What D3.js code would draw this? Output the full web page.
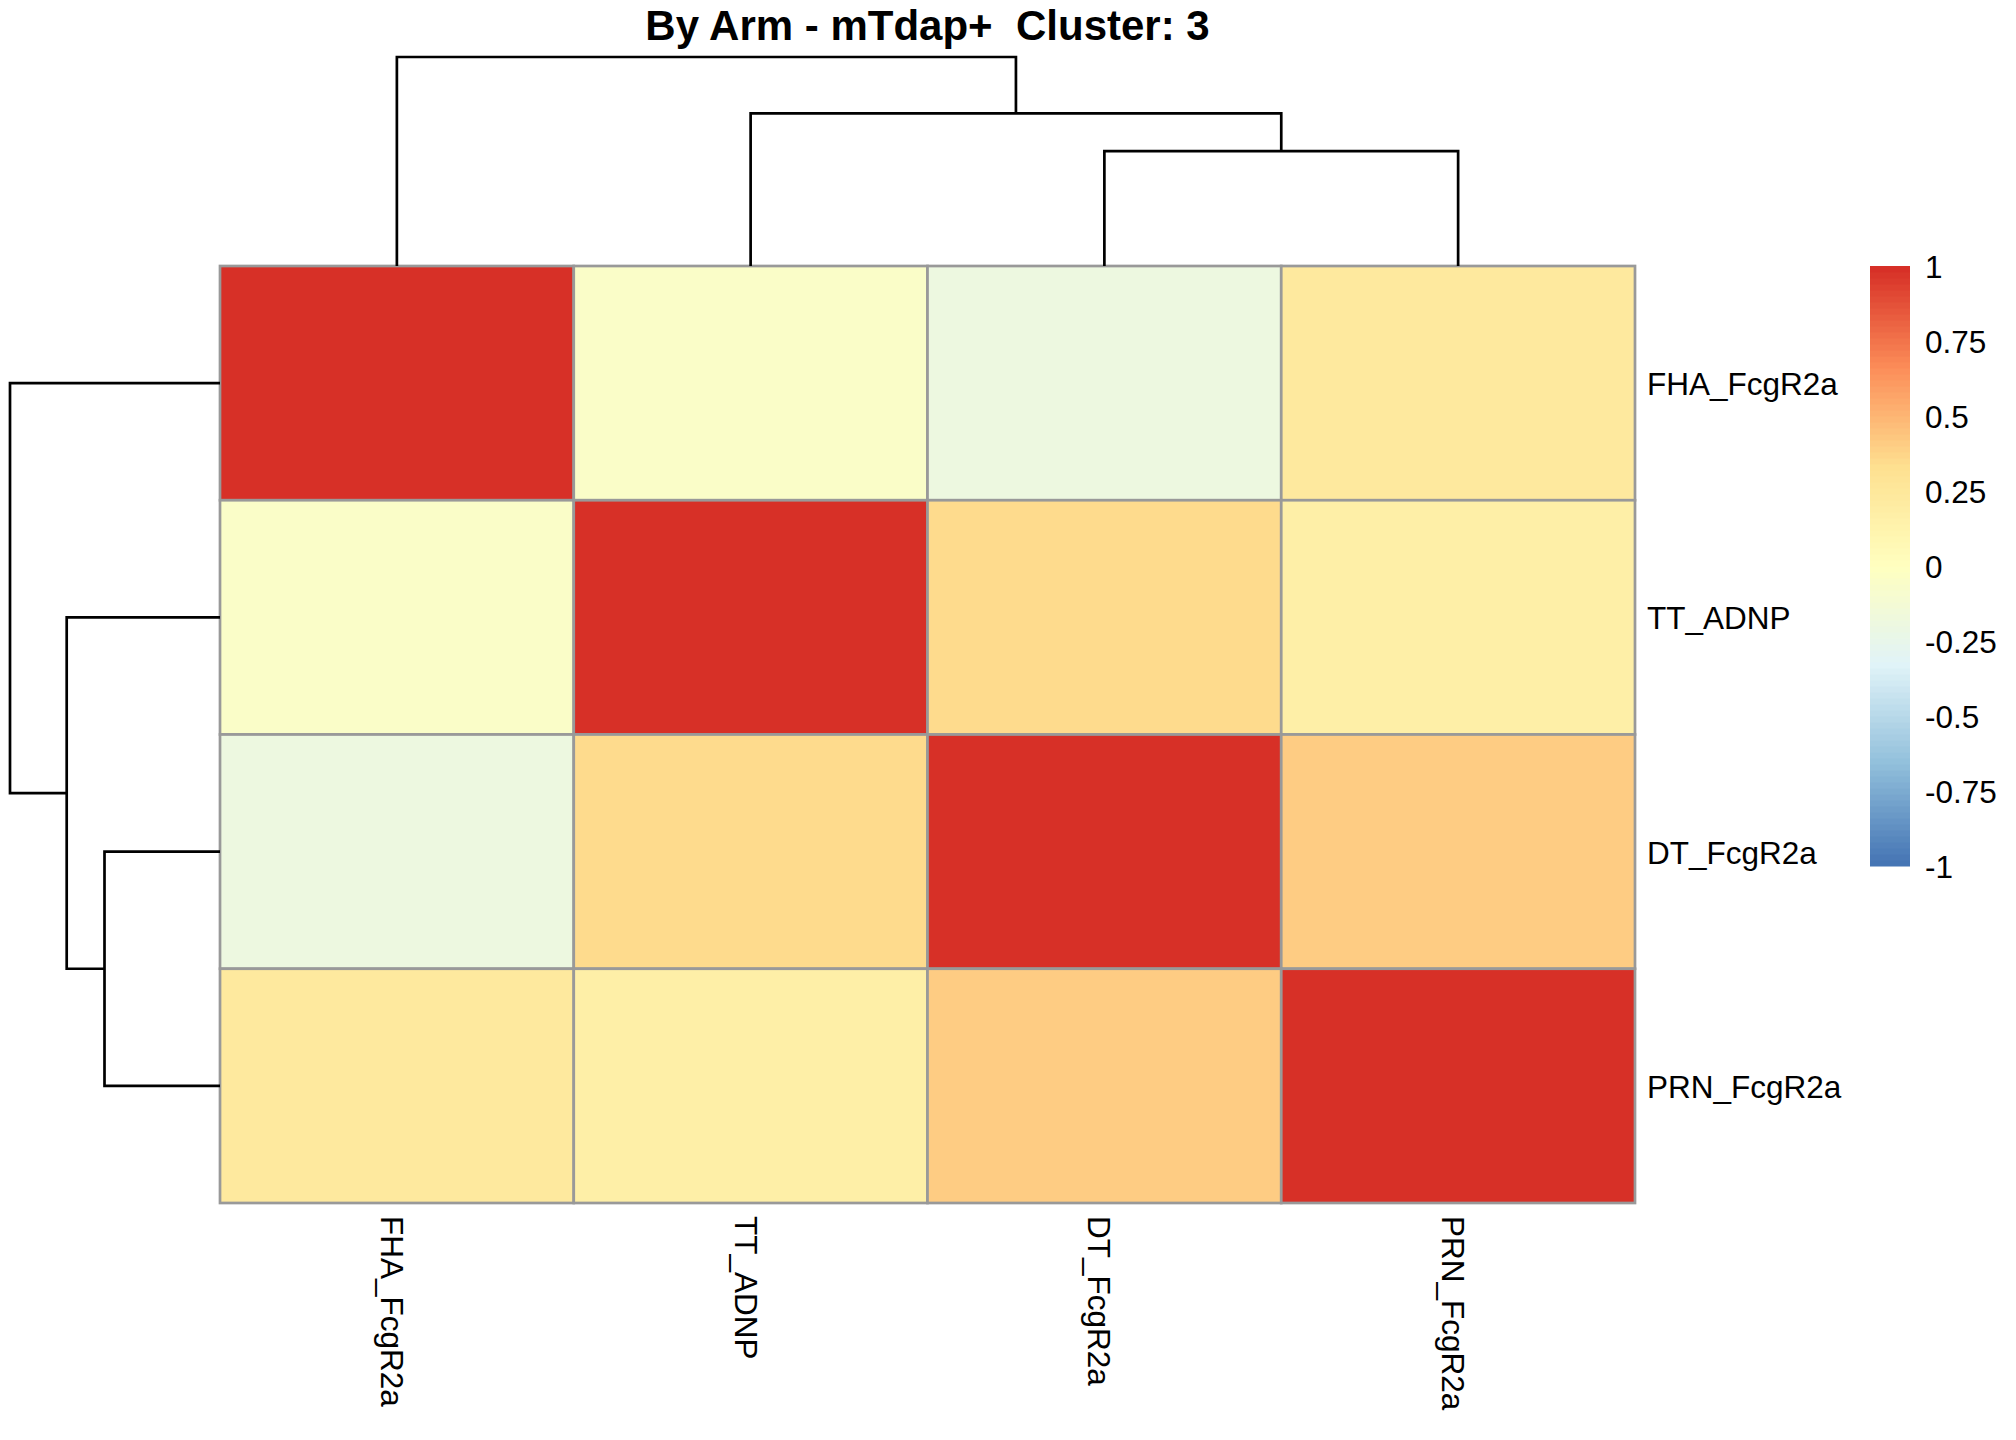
<!DOCTYPE html>
<html>
<head>
<meta charset="utf-8">
<script src="https://cdn.jsdelivr.net/npm/d3@7"></script>
<style>
  body { margin: 0; background: #fff; }
  text { font-family: "Liberation Sans", Arial, sans-serif; fill: #000; }
</style>
</head>
<body>
<svg id="svg1" width="2016" height="1440"></svg>
<script>
// labels in the order the clustering put them (same for rows and columns)
const labels = ["FHA_FcgR2a", "TT_ADNP", "DT_FcgR2a", "PRN_FcgR2a"];

// correlation values, one array per row
const rowFHA = [1.00, -0.06, -0.19, 0.23];
const rowTT  = [-0.06, 1.00, 0.34, 0.16];
const rowDT  = [-0.19, 0.34, 1.00, 0.40];
const rowPRN = [0.23, 0.16, 0.40, 1.00];
const values = [rowFHA, rowTT, rowDT, rowPRN];

// dendrogram merges (leaf index or "n"+merge index), heights
const mergeA = [2, 1, 0];
const mergeB = [3, "n0", "n1"];
const mergeHeight = [0.55, 0.73, 1.00];

// legend ticks
const legendTicks = [-1, -0.75, -0.5, -0.25, 0, 0.25, 0.5, 0.75, 1];

const title = "By Arm - mTdap+  Cluster: 3";

// rev(brewer.pal(7,"RdYlBu")) ramped to 100 colours like pheatmap
const baseColours = ["#4575B4", "#91BFDB", "#E0F3F8", "#FFFFBF", "#FEE090", "#FC8D59", "#D73027"];
const ramp = d3.piecewise(d3.interpolateRgb, baseColours);
const palette = d3.range(100).map(i => ramp(i / 99));
const colour = d3.scaleQuantize().domain([-1, 1]).range(palette);

const svg = d3.select("#svg1");

const hmLeft = 220, hmRight = 1635, hmTop = 266, hmBottom = 1203;

const x = d3.scaleBand().domain(labels).range([hmLeft, hmRight]);
const y = d3.scaleBand().domain(labels).range([hmTop, hmBottom]);

// tree height scales
const maxH = d3.max(mergeHeight);
const colTree = d3.scaleLinear().domain([0, maxH]).range([hmTop, 57]);
const rowTree = d3.scaleLinear().domain([0, maxH]).range([hmLeft, 10]);

// title
svg.append("text")
   .attr("x", (hmLeft + hmRight) / 2)
   .attr("y", 40)
   .style("text-anchor", "middle")
   .style("font-size", "42px")
   .style("font-weight", "bold")
   .style("white-space", "pre")
   .text(title);

// heatmap cells
const cells = [];
values.forEach((row, i) => row.forEach((v, j) => cells.push({r: labels[i], c: labels[j], v: v})));

svg.append("g").selectAll("rect")
   .data(cells)
   .enter().append("rect")
     .attr("x", d => x(d.c))
     .attr("y", d => y(d.r))
     .attr("width", x.bandwidth())
     .attr("height", y.bandwidth())
     .style("fill", d => colour(d.v))
     .style("stroke", "#999999")
     .style("stroke-width", 2.7);

// work out node positions for the dendrogram (position along leaves + height)
function nodeInfo(ref, scale, nodes) {
  if (typeof ref === "number") return {pos: scale(labels[ref]) + scale.bandwidth() / 2, h: 0};
  return nodes[+ref.slice(1)];
}

function buildTree(scale) {
  const nodes = [];
  const segs = [];
  mergeHeight.forEach((h, k) => {
    const a = nodeInfo(mergeA[k], scale, nodes);
    const b = nodeInfo(mergeB[k], scale, nodes);
    segs.push({a: a, b: b, h: h});
    nodes.push({pos: (a.pos + b.pos) / 2, h: h});
  });
  return segs;
}

// column dendrogram on top
svg.append("g").selectAll("path")
   .data(buildTree(x))
   .enter().append("path")
     .attr("d", s => `M${s.a.pos},${colTree(s.a.h)}V${colTree(s.h)}H${s.b.pos}V${colTree(s.b.h)}`)
     .style("fill", "none")
     .style("stroke", "#000")
     .style("stroke-width", 2.7);

// row dendrogram on the left
svg.append("g").selectAll("path")
   .data(buildTree(y))
   .enter().append("path")
     .attr("d", s => `M${rowTree(s.a.h)},${s.a.pos}H${rowTree(s.h)}V${s.b.pos}H${rowTree(s.b.h)}`)
     .style("fill", "none")
     .style("stroke", "#000")
     .style("stroke-width", 2.7);

// row labels
svg.append("g").selectAll("text")
   .data(labels)
   .enter().append("text")
     .attr("x", hmRight + 12)
     .attr("y", d => y(d) + y.bandwidth() / 2 + 12)
     .style("font-size", "31.5px")
     .text(d => d);

// column labels, rotated to read downwards
svg.append("g").selectAll("text")
   .data(labels)
   .enter().append("text")
     .attr("transform", d => `translate(${x(d) + x.bandwidth() / 2},${hmBottom + 13}) rotate(90)`)
     .attr("dy", 16)
     .style("font-size", "31.5px")
     .text(d => d);

// colour legend
const ly = d3.scaleLinear().domain([-1, 1]).range([866, 266]);
const step = 2 / palette.length;

svg.append("g").selectAll("rect")
   .data(palette)
   .enter().append("rect")
     .attr("x", 1870)
     .attr("y", (d, i) => ly(-1 + step * (i + 1)))
     .attr("width", 40)
     .attr("height", (d, i) => ly(-1 + step * i) - ly(-1 + step * (i + 1)) + 0.5)
     .style("fill", d => d);

svg.append("g").selectAll("text")
   .data(legendTicks)
   .enter().append("text")
     .attr("x", 1925)
     .attr("y", d => ly(d) + 12)
     .style("font-size", "31.5px")
     .text(d => String(d));
</script>
</body>
</html>
